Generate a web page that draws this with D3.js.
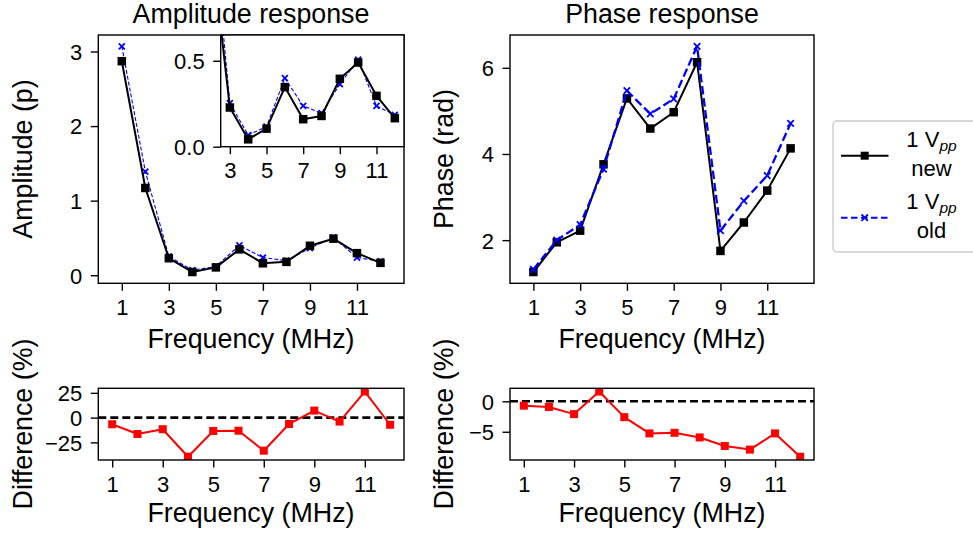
<!DOCTYPE html>
<html><head><meta charset="utf-8">
<script src="https://cdn.jsdelivr.net/npm/d3@7"></script>
<style>
html,body{margin:0;padding:0;background:#fff;}
svg{display:block;font-family:"Liberation Sans",Arial,sans-serif;}
</style></head>
<body>
<script>
// ---------- data ----------
const freq = [1,2,3,4,5,6,7,8,9,10,11,12];
const ampNew = [2.87,1.17,0.228,0.043,0.105,0.347,0.160,0.179,0.395,0.490,0.296,0.166];
const ampOld = [3.07,1.39,0.253,0.068,0.117,0.399,0.237,0.195,0.364,0.506,0.237,0.185];
const phaseNew = [1.26,1.95,2.22,3.76,5.29,4.59,4.97,6.13,1.75,2.41,3.15,4.13];
const phaseOld = [1.32,2.00,2.36,3.65,5.47,4.93,5.28,6.50,2.22,2.91,3.50,4.71];
const ampDiff = [-6.7,-16.5,-11.7,-39.5,-13.5,-13.2,-33.4,-6.4,7.1,-4.0,26.3,-7.2];
const phaseDiff = [-0.72,-0.93,-2.1,1.6,-2.6,-5.27,-5.17,-5.93,-7.33,-7.93,-5.27,-9.1];
const xTicks = [1,3,5,7,9,11];
const insetXTicks = [3,5,7,9,11];
const ampYTicks = [0,1,2,3];
const insetYTicks = [0.0,0.5];
const phaseYTicks = [2,4,6];
const ampDiffTicks = [-25,0,25];
const phaseDiffTicks = [-5,0];
const titles = ["Amplitude response","Phase response"];
const legendLabels = [["new"],["old"]];

const W=973,H=537;
const svg=d3.select("body").append("svg").attr("width",W).attr("height",H);
svg.append("rect").attr("width",W).attr("height",H).attr("fill","#fff");
const defs=svg.append("defs");
let clipId=0;

function padExt(arr){const e=d3.extent(arr);const p=(e[1]-e[0])*0.05;return [e[0]-p,e[1]+p];}

function panel(box,xd,yd,xt,yt,yfmt,opts={}){
  const g=svg.append("g");
  const x=d3.scaleLinear().domain(xd).range([box.l,box.r]);
  const y=d3.scaleLinear().domain(yd).range([box.b,box.t]);
  if(opts.bg) g.append("rect").attr("x",box.l).attr("y",box.t).attr("width",box.r-box.l).attr("height",box.b-box.t).attr("fill","#fff");
  const id="clip"+(clipId++);
  defs.append("clipPath").attr("id",id).append("rect").attr("x",box.l).attr("y",box.t).attr("width",box.r-box.l).attr("height",box.b-box.t);
  const data=g.append("g").attr("clip-path",`url(#${id})`);
  const fs=opts.fs||22;
  const ax=g.append("g").attr("transform",`translate(0,${box.b})`)
    .call(d3.axisBottom(x).tickValues(xt).tickFormat(d3.format("d")).tickSize(7.5).tickSizeOuter(0));
  ax.select(".domain").remove();
  ax.selectAll("line").attr("stroke","#000").attr("stroke-width",1.4);
  ax.selectAll("text").attr("y",31.5).attr("dy",null).attr("font-size",fs).attr("fill","#000").attr("font-family",null);
  const ay=g.append("g").attr("transform",`translate(${box.l},0)`)
    .call(d3.axisLeft(y).tickValues(yt).tickFormat(yfmt).tickSize(7.5).tickPadding(8.5).tickSizeOuter(0));
  ay.select(".domain").remove();
  ay.selectAll("line").attr("stroke","#000").attr("stroke-width",1.4);
  ay.selectAll("text").attr("font-size",fs).attr("fill","#000").attr("font-family",null).attr("dy","0.36em");
  g.append("rect").attr("x",box.l).attr("y",box.t).attr("width",box.r-box.l).attr("height",box.b-box.t)
    .attr("fill","none").attr("stroke","#000").attr("stroke-width",1.4);
  return {g,x,y,data};
}

function series(p,vals,style){
  const line=d3.line().x((d,i)=>p.x(freq[i])).y(d=>p.y(d));
  p.data.append("path").datum(vals).attr("d",line).attr("fill","none")
    .attr("stroke",style.color).attr("stroke-width",style.lw).attr("stroke-dasharray",style.dash||null)
    .attr("stroke-linejoin","round");
  vals.forEach((v,i)=>{
    const cx=p.x(freq[i]),cy=p.y(v);
    if(style.marker==="s"){
      p.data.append("rect").attr("x",cx-style.ms/2).attr("y",cy-style.ms/2).attr("width",style.ms).attr("height",style.ms).attr("fill",style.color);
    } else {
      const h=style.ms/2;
      p.data.append("path").attr("d",`M${cx-h},${cy-h}L${cx+h},${cy+h}M${cx-h},${cy+h}L${cx+h},${cy-h}`)
        .attr("stroke",style.color).attr("stroke-width",1.8);
    }
  });
}
function zeroLine(p){
  p.data.append("line").attr("x1",p.x.range()[0]).attr("x2",p.x.range()[1]).attr("y1",p.y(0)).attr("y2",p.y(0))
    .attr("stroke","#000").attr("stroke-width",2.6).attr("stroke-dasharray","8,4");
}

const sNewA={color:"#000",lw:2,marker:"s",ms:8.5};
const sOldA={color:"#0000ff",lw:1.1,dash:"4,2",marker:"x",ms:6};
const sNewP={color:"#000",lw:2,marker:"s",ms:8.5};
const sOldP={color:"#0000ff",lw:2.3,dash:"8.5,3.7",marker:"x",ms:6.5};
const sDiff={color:"#ff0000",lw:2,marker:"s",ms:8};

// amplitude main
const pA=panel({l:98.3,r:404,t:35,b:283.3},[0,13],padExt(ampNew.concat(ampOld)),xTicks,ampYTicks,d3.format("d"));
series(pA,ampOld,sOldA); series(pA,ampNew,sNewA);
// inset
const pI=panel({l:220.7,r:404,t:35,b:146.7},[2.5,12.5],[0,0.65],insetXTicks,insetYTicks,d3.format(".1f"),{bg:true});
series(pI,ampOld,sOldA); series(pI,ampNew,sNewA);
// phase main
const pP=panel({l:510,r:814,t:35,b:283.3},[0,13],padExt(phaseNew.concat(phaseOld)),xTicks,phaseYTicks,d3.format("d"));
series(pP,phaseNew,sNewP); series(pP,phaseOld,sOldP);
// diffs
const pAD=panel({l:98.3,r:404,t:388.3,b:460},padExt(freq),padExt(ampDiff),xTicks,ampDiffTicks,d3.format("d"));
zeroLine(pAD); series(pAD,ampDiff,sDiff);
const pPD=panel({l:510,r:814,t:388.3,b:460},padExt(freq),padExt(phaseDiff),xTicks,phaseDiffTicks,d3.format("d"));
zeroLine(pPD); series(pPD,phaseDiff,sDiff);

// titles & labels
const LFS=26.8;
svg.append("text").attr("x",251).attr("y",22.7).attr("text-anchor","middle").attr("font-size",LFS).text(titles[0]);
svg.append("text").attr("x",662).attr("y",22.7).attr("text-anchor","middle").attr("font-size",LFS).text(titles[1]);
function xlabel(cx,by){svg.append("text").attr("x",cx).attr("y",by).attr("text-anchor","middle").attr("font-size",LFS).text("Frequency (MHz)");}
xlabel(251,347.7); xlabel(662,347.7); xlabel(251,521.7); xlabel(662,521.7);
function ylabel(bx,cy,t){svg.append("text").attr("transform",`translate(${bx},${cy}) rotate(-90)`).attr("text-anchor","middle").attr("font-size",LFS).text(t);}
ylabel(31.5,159,"Amplitude (p)"); ylabel(453,159,"Phase (rad)");
ylabel(31.5,424,"Difference (%)"); ylabel(453,424,"Difference (%)");

// legend
const lg=svg.append("g");
lg.append("rect").attr("x",833).attr("y",121).attr("width",160).attr("height",131).attr("rx",4)
  .attr("fill","#fff").attr("stroke","#cccccc").attr("stroke-width",1.4);
const legItems=[{style:sNewP,y:155.7,lw:2,dash:null},{style:sOldP,y:217.7,lw:2,dash:"6.5,3.5"}];
legItems.forEach((it,k)=>{
  lg.append("line").attr("x1",841).attr("x2",888.5).attr("y1",it.y).attr("y2",it.y)
    .attr("stroke",it.style.color).attr("stroke-width",it.lw).attr("stroke-dasharray",it.dash);
  const cx=864.7,cy=it.y;
  if(it.style.marker==="s") lg.append("rect").attr("x",cx-4).attr("y",cy-4).attr("width",8).attr("height",8).attr("fill","#000");
  else lg.append("path").attr("d",`M${cx-3.2},${cy-3.2}L${cx+3.2},${cy+3.2}M${cx-3.2},${cy+3.2}L${cx+3.2},${cy-3.2}`).attr("stroke",it.style.color).attr("stroke-width",1.8);
  const t=lg.append("text").attr("x",931.5).attr("y",it.y-9).attr("text-anchor","middle").attr("font-size",22);
  t.append("tspan").text("1 V");
  t.append("tspan").attr("font-style","italic").attr("font-size",15.5).attr("dy",4).text("pp");
  lg.append("text").attr("x",931.5).attr("y",it.y+20).attr("text-anchor","middle").attr("font-size",22).text(legendLabels[k][0]);
});
</script>
</body></html>
